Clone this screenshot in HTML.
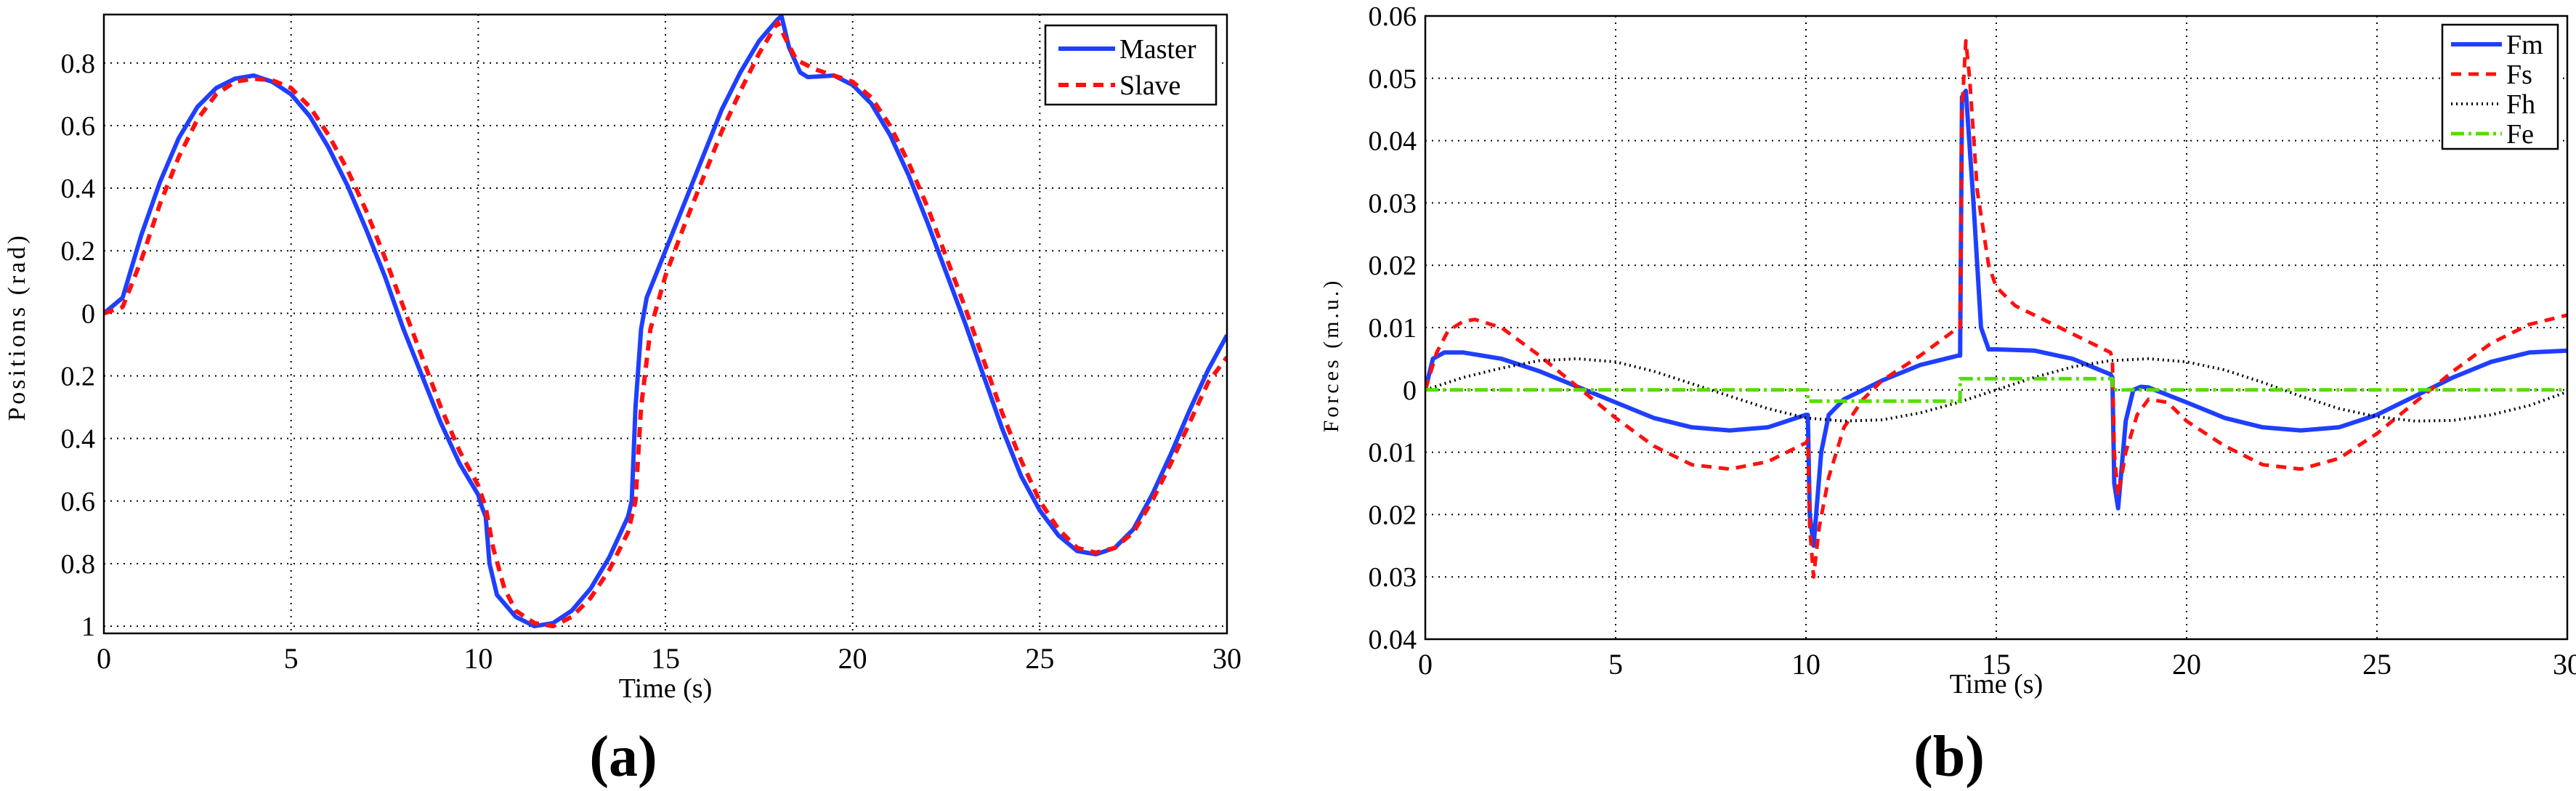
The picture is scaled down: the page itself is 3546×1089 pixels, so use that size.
<!DOCTYPE html>
<html><head><meta charset="utf-8"><style>
html,body{margin:0;padding:0;background:#fff;}
svg{display:block;}
text{font-family:"Liberation Serif",serif;}
</style></head><body>
<svg id="fig" width="3546" height="1089" xmlns="http://www.w3.org/2000/svg"></svg>
<script>
// ---- Chart (a) data ----
const aTimesM=[0,0.5,1,1.5,2,2.5,3,3.5,4,4.5,5,5.5,6,6.5,7,7.5,8,8.5,9,9.5,10,10.1,10.2,10.3,10.5,11,11.5,12,12.5,13,13.5,14,14.1,14.2,14.35,14.5,15,15.5,16,16.5,17,17.5,18,18.1,18.3,18.6,18.8,19.5,20,20.5,21,21.5,22,22.5,23,23.5,24,24.5,25,25.5,26,26.5,27,27.5,28,28.5,29,29.5,30];
const aMaster=[0,0.05,0.25,0.42,0.56,0.66,0.72,0.75,0.76,0.74,0.70,0.63,0.53,0.41,0.27,0.12,-0.05,-0.2,-0.35,-0.48,-0.58,-0.62,-0.65,-0.8,-0.9,-0.97,-1.0,-0.99,-0.95,-0.88,-0.78,-0.65,-0.6,-0.3,-0.05,0.05,0.2,0.35,0.5,0.65,0.77,0.87,0.94,0.95,0.85,0.77,0.755,0.76,0.73,0.67,0.57,0.44,0.29,0.13,-0.03,-0.2,-0.37,-0.52,-0.63,-0.71,-0.76,-0.77,-0.75,-0.69,-0.58,-0.45,-0.31,-0.18,-0.07];
const aTimesS=[0,0.5,1,1.5,2,2.5,3,3.5,4,4.5,5,5.5,6,6.5,7,7.5,8,8.5,9,9.5,10,10.2,10.4,10.7,11,11.5,12,12.5,13,13.5,14,14.2,14.35,14.6,15,15.5,16,16.5,17,17.5,18,18.2,18.5,19,19.5,20,20.5,21,21.5,22,22.5,23,23.5,24,24.5,25,25.5,26,26.5,27,27.5,28,28.5,29,29.5,30];
const aSlave=[0,0.02,0.17,0.35,0.5,0.62,0.7,0.74,0.75,0.745,0.72,0.66,0.57,0.46,0.33,0.18,0.02,-0.14,-0.3,-0.44,-0.55,-0.62,-0.75,-0.88,-0.95,-0.99,-1.0,-0.97,-0.91,-0.82,-0.7,-0.6,-0.3,-0.05,0.12,0.28,0.43,0.58,0.71,0.83,0.93,0.88,0.81,0.78,0.76,0.74,0.69,0.6,0.48,0.34,0.18,0.02,-0.15,-0.32,-0.47,-0.6,-0.69,-0.75,-0.765,-0.75,-0.7,-0.6,-0.48,-0.35,-0.22,-0.14];
const aXTicks=[0,5,10,15,20,25,30];
const aYTicks=[0.8,0.6,0.4,0.2,0,-0.2,-0.4,-0.6,-0.8,-1];
const aYLabels=["0.8","0.6","0.4","0.2","0","0.2","0.4","0.6","0.8","1"];
// ---- Chart (b) data ----
const bTimesFm=[0,0.2,0.5,1,2,3,4,5,6,7,8,9,10,10.05,10.1,10.2,10.4,10.6,11,12,13,14,14.05,14.1,14.2,14.4,14.6,14.8,15,16,17,18,18.05,18.1,18.2,18.4,18.6,18.8,19,20,21,22,23,24,25,26,27,28,29,30];
const bFm=[0,0.005,0.006,0.006,0.005,0.003,0.0005,-0.002,-0.0045,-0.006,-0.0065,-0.006,-0.004,-0.004,-0.02,-0.025,-0.01,-0.004,-0.0015,0.0015,0.004,0.0055,0.0055,0.047,0.048,0.03,0.01,0.0065,0.0065,0.0063,0.005,0.0025,0.002,-0.015,-0.019,-0.005,0,0.0005,0.0004,-0.002,-0.0045,-0.006,-0.0065,-0.006,-0.004,-0.001,0.002,0.0045,0.006,0.0063];
const bTimesFs=[0,0.3,0.6,1,1.3,2,3,4,5,6,7,8,9,10,10.05,10.1,10.2,10.35,10.6,11,11.5,12,13,14,14.05,14.1,14.2,14.3,14.5,14.8,15,15.5,16,17,18,18.05,18.1,18.2,18.4,18.7,19,19.5,20,21,22,23,24,25,26,27,28,29,30];
const bFs=[0,0.006,0.0095,0.011,0.0113,0.01,0.0055,0.0005,-0.0045,-0.009,-0.012,-0.0127,-0.0115,-0.0085,-0.008,-0.022,-0.03,-0.022,-0.014,-0.006,-0.0015,0.0015,0.0055,0.01,0.01,0.045,0.056,0.05,0.032,0.02,0.0165,0.0135,0.012,0.009,0.006,0.005,-0.01,-0.017,-0.01,-0.004,-0.0015,-0.002,-0.005,-0.009,-0.012,-0.0127,-0.011,-0.007,-0.002,0.003,0.0075,0.0105,0.012];
const bTimesFh=[0,1,2,3,4,5,6,7,8,9,10,11,12,13,14,15,16,17,18,19,20,21,22,23,24,25,26,27,28,29,30];
const bFh=[0,0.002,0.0035,0.0047,0.005,0.0045,0.003,0.001,-0.001,-0.003,-0.0045,-0.005,-0.0048,-0.0037,-0.002,0,0.002,0.0037,0.0047,0.005,0.0045,0.0032,0.0012,-0.001,-0.003,-0.0043,-0.005,-0.0049,-0.004,-0.0025,-0.0003];
const bTimesFe=[0,10.05,10.05,14.05,14.05,18.05,18.05,30];
const bFe=[0,0,-0.0018,-0.0018,0.0018,0.0018,0,0];
const bXTicks=[0,5,10,15,20,25,30];
const bYTicks=[0.06,0.05,0.04,0.03,0.02,0.01,0,-0.01,-0.02,-0.03,-0.04];
const bYLabels=["0.06","0.05","0.04","0.03","0.02","0.01","0","0.01","0.02","0.03","0.04"];

const NS="http://www.w3.org/2000/svg";
const svg=document.getElementById('fig');
function mk(tag,attrs,parent){const e=document.createElementNS(NS,tag);for(const k in attrs)e.setAttribute(k,attrs[k]);(parent||svg).appendChild(e);return e;}

function chart(o){
  const g=mk('g',{});
  
  
  const X=t=>o.x0+(t-o.xmin)/(o.xmax-o.xmin)*(o.x1-o.x0);
  const Y=v=>o.y1-(v-o.ymin)/(o.ymax-o.ymin)*(o.y1-o.y0);
  // grid
  o.xt.forEach(t=>{
    const l=mk('line',{x1:X(t),x2:X(t),y1:o.y0,y2:o.y1,stroke:'#000','stroke-width':2,'stroke-dasharray':'2 7'},g);
    
    
    const tx=mk('text',{x:X(t),y:o.y1+48,'font-size':40,'text-anchor':'middle'},g);
    tx.textContent=t;
    
    
  });
  o.yt.forEach((v,i)=>{
    const l=mk('line',{x1:o.x0,x2:o.x1,y1:Y(v),y2:Y(v),stroke:'#000','stroke-width':2,'stroke-dasharray':'2 7'},g);
    
    
    const tx=mk('text',{x:o.x0-12,y:Y(v)+13,'font-size':38,'text-anchor':'end'},g);
    tx.textContent=o.yl[i];
    
    
  });
  const clip='clip'+o.name;
  const cp=mk('clipPath',{id:clip},g);mk('rect',{x:o.x0,y:o.y0,width:o.x1-o.x0,height:o.y1-o.y0},cp);
  o.series.forEach(s=>{
    const d=s.t.map((t,i)=>(i?'L':'M')+X(t).toFixed(1)+' '+Y(s.v[i]).toFixed(1)).join(' ');
    const p=mk('path',{d:d,fill:'none',stroke:s.color,'stroke-width':s.w,'stroke-dasharray':s.dash||'none','stroke-linejoin':'round','clip-path':'url(#'+clip+')'},g);
    
    
  });
  const fr=mk('rect',{x:o.x0,y:o.y0,width:o.x1-o.x0,height:o.y1-o.y0,fill:'none',stroke:'#000','stroke-width':2.5},g);
  
  
  // legend
  const L=o.leg;
  const lb=mk('rect',{x:L.x,y:L.y,width:L.w,height:L.h,fill:'#fff',stroke:'#000','stroke-width':2.5},g);
  
  
  o.series.forEach((s,i)=>{
    const yy=L.y+L.first+i*L.step;
    mk('line',{x1:L.x+L.lx0,x2:L.x+L.lx1,y1:yy,y2:yy,stroke:s.color,'stroke-width':s.w,'stroke-dasharray':s.dash||'none'},g);
    const tx=mk('text',{x:L.x+L.lx1+6,y:yy+13,'font-size':38},g);
    tx.textContent=s.label;
    
    
  });
}

chart({name:'chart-a',x0:143,x1:1689,y0:20,y1:872,xmin:0,xmax:30,ymin:-1.023,ymax:0.955,
  xt:aXTicks,yt:aYTicks,yl:aYLabels,
  series:[{name:'master-line',label:'Master',t:aTimesM,v:aMaster,color:'#1f3fff',w:6},
          {name:'slave-line',label:'Slave',t:aTimesS,v:aSlave,color:'#ff1010',w:6,dash:'14 10'}],
  leg:{x:1439,y:35,w:235,h:109,first:32,step:50,lx0:18,lx1:96}});

chart({name:'chart-b',x0:1962,x1:3534,y0:22,y1:880,xmin:0,xmax:30,ymin:-0.04,ymax:0.06,
  xt:bXTicks,yt:bYTicks,yl:bYLabels,
  series:[{name:'fm-line',label:'Fm',t:bTimesFm,v:bFm,color:'#1f3fff',w:6},
          {name:'fs-line',label:'Fs',t:bTimesFs,v:bFs,color:'#ff1010',w:5,dash:'14 10'},
          {name:'fh-line',label:'Fh',t:bTimesFh,v:bFh,color:'#000',w:4,dash:'2 5'},
          {name:'fe-line',label:'Fe',t:bTimesFe,v:bFe,color:'#55dd00',w:5,dash:'18 6 4 6'}],
  leg:{x:3362,y:34,w:159,h:171,first:27,step:41,lx0:12,lx1:82}});

function txt(s,attrs,name){const t=mk('text',attrs);t.textContent=s;return t;}
txt('Time (s)',{x:916,y:960,'font-size':38,'text-anchor':'middle'},'x-axis-title-a');
txt('Time (s)',{x:2748,y:954,'font-size':38,'text-anchor':'middle'},'x-axis-title-b');
txt('Positions (rad)',{x:0,y:0,'font-size':34,'text-anchor':'middle','letter-spacing':4,transform:'translate(34,450) rotate(-90)'},'y-axis-title-a');
txt('Forces (m.u.)',{x:0,y:0,'font-size':30,'text-anchor':'middle','letter-spacing':4,transform:'translate(1842,489) rotate(-90)'},'y-axis-title-b');
txt('(a)',{x:858,y:1068,'font-size':80,'text-anchor':'middle','font-weight':'bold'},'panel-label-a');
txt('(b)',{x:2683,y:1068,'font-size':80,'text-anchor':'middle','font-weight':'bold'},'panel-label-b');
</script>
</body></html>
